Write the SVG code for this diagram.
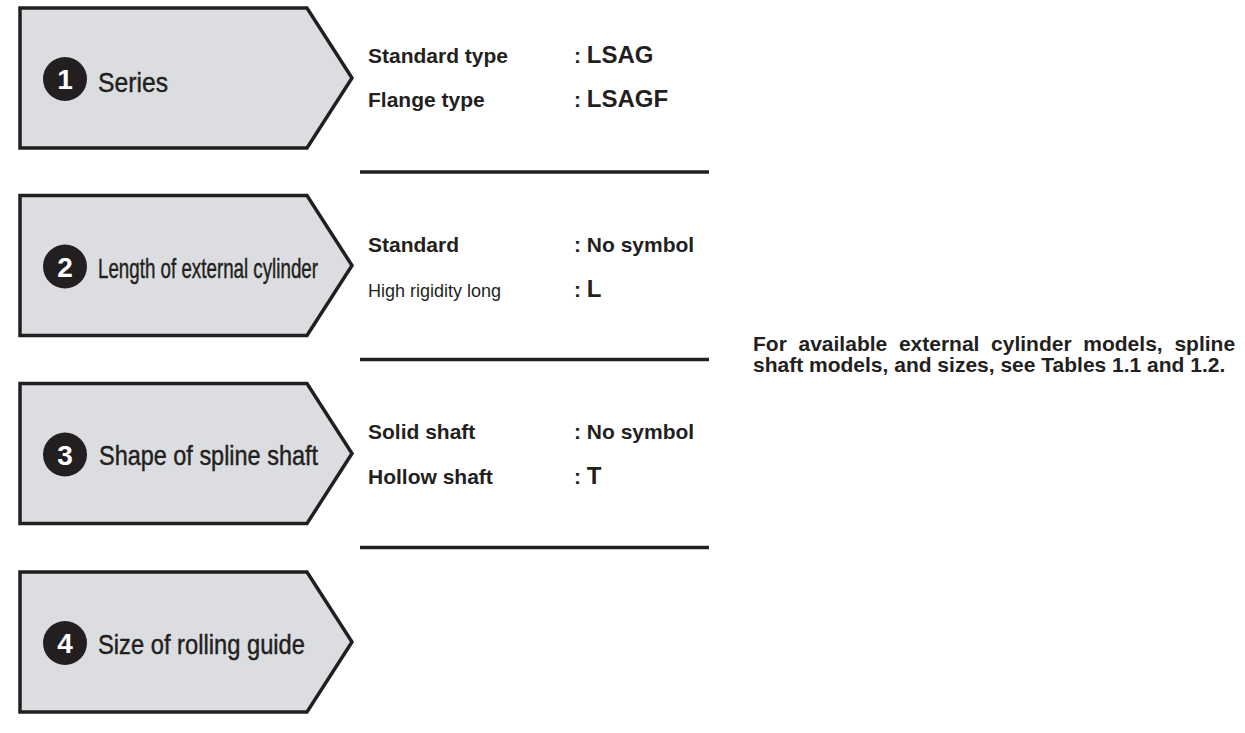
<svg xmlns="http://www.w3.org/2000/svg" width="1245" height="733" viewBox="0 0 1245 733">
  <style>
    .box { fill: #dcdde0; stroke: #231f20; stroke-width: 3.5; stroke-linejoin: miter; }
    .badge { fill: #231f20; }
    .num { fill: #ffffff; font-family: "Liberation Sans Narrow", "Liberation Sans", sans-serif; font-weight: bold; font-size: 28px; text-anchor: middle; }
    .title { fill: #231f20; stroke: #231f20; stroke-width: 0.45; font-family: "Liberation Sans Narrow", "Liberation Sans", sans-serif; font-size: 28px; }
    .lbl { fill: #231f20; font-family: "Liberation Sans", Arial, sans-serif; font-weight: bold; font-size: 21px; }
    .lbl-small { fill: #231f20; font-family: "Liberation Sans", Arial, sans-serif; font-size: 18px; }
    .big { font-size: 24px; }
    .sep { stroke: #231f20; stroke-width: 3.5; fill: none; }
  </style>

  <g id="node-1" transform="translate(0,8)">
    <polygon class="box" points="20,0 307,0 352,70 307,140 20,140"/>
    <circle class="badge" cx="65" cy="71" r="22"/>
    <text class="num" x="65" y="81">1</text>
    <text class="title" x="98" y="84" textLength="70" lengthAdjust="spacingAndGlyphs">Series</text>
  </g>

  <g id="node-2" transform="translate(0,195.5)">
    <polygon class="box" points="20,0 307,0 352,70 307,140 20,140"/>
    <circle class="badge" cx="65" cy="71" r="22"/>
    <text class="num" x="65" y="81">2</text>
    <text class="title" x="98" y="82" textLength="220" lengthAdjust="spacingAndGlyphs">Length of external cylinder</text>
  </g>

  <g id="node-3" transform="translate(0,383.5)">
    <polygon class="box" points="20,0 307,0 352,70 307,140 20,140"/>
    <circle class="badge" cx="65" cy="71" r="22"/>
    <text class="num" x="65" y="81">3</text>
    <text class="title" x="99" y="81" textLength="219" lengthAdjust="spacingAndGlyphs">Shape of spline shaft</text>
  </g>

  <g id="node-4" transform="translate(0,572)">
    <polygon class="box" points="20,0 307,0 352,70 307,140 20,140"/>
    <circle class="badge" cx="65" cy="71" r="22"/>
    <text class="num" x="65" y="81">4</text>
    <text class="title" x="98" y="82" textLength="207" lengthAdjust="spacingAndGlyphs">Size of rolling guide</text>
  </g>

  <g id="options-1">
    <text class="lbl" x="368" y="63">Standard type</text>
    <text class="lbl" x="574" y="63">: <tspan class="big">LSAG</tspan></text>
    <text class="lbl" x="368" y="107">Flange type</text>
    <text class="lbl" x="574" y="107">: <tspan class="big">LSAGF</tspan></text>
  </g>

  <g id="options-2">
    <text class="lbl" x="368" y="252">Standard</text>
    <text class="lbl" x="574" y="252">: No symbol</text>
    <text class="lbl-small" x="368" y="297">High rigidity long</text>
    <text class="lbl" x="574" y="297">: <tspan class="big">L</tspan></text>
  </g>

  <g id="options-3">
    <text class="lbl" x="368" y="439">Solid shaft</text>
    <text class="lbl" x="574" y="439">: No symbol</text>
    <text class="lbl" x="368" y="484">Hollow shaft</text>
    <text class="lbl" x="574" y="484">: <tspan class="big">T</tspan></text>
  </g>

  <g id="separators">
    <line class="sep" x1="360" y1="172" x2="709" y2="172"/>
    <line class="sep" x1="360" y1="359.5" x2="709" y2="359.5"/>
    <line class="sep" x1="360" y1="547.5" x2="709" y2="547.5"/>
  </g>

  <g id="note">
    <text class="lbl" y="351">
      <tspan x="753">For</tspan><tspan x="798.5">available</tspan><tspan x="898.9">external</tspan><tspan x="991.1">cylinder</tspan><tspan x="1083.3">models,</tspan><tspan x="1174.4">spline</tspan>
    </text>
    <text class="lbl" x="753" y="372">shaft models, and sizes, see Tables 1.1 and 1.2.</text>
  </g>
</svg>
